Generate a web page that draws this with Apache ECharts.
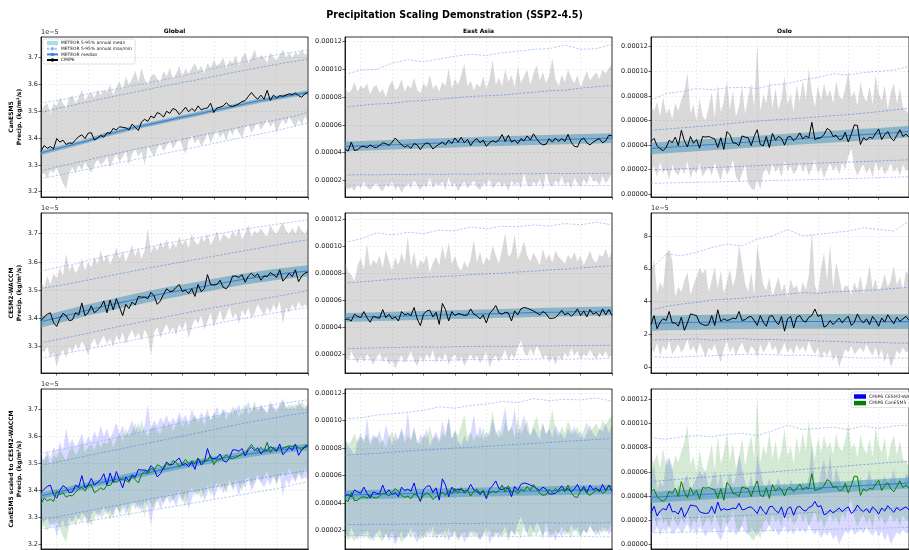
<!DOCTYPE html>
<html><head><meta charset="utf-8">
<script src="https://cdn.jsdelivr.net/npm/echarts@6/dist/echarts.min.js"></script>
<style>html,body{margin:0;padding:0;background:#fff}#c{width:909px;height:550px}</style>
</head><body><div id="c"></div>
<script>
// ---------- categories ----------
const YEARS = Array.from({length: 86}, (_, i) => String(2015 + i));
const MX = [2015,2020,2025,2030,2035,2040,2045,2050,2055,2060,2065,2070,2075,2080,2085,2090,2095,2100];
const COL_TITLES = ['Global', 'East Asia', 'Oslo'];
const ROW_NAMES = ['CanESM5\nPrecip. (kg/m²/s)', 'CESM2-WACCM\nPrecip. (kg/m²/s)', 'CanESM5 scaled to CESM2-WACCM\nPrecip. (kg/m²/s)'];
const TICKS_GLOBAL_1 = [3.2,3.3,3.4,3.5,3.6,3.7];
const TICKS_GLOBAL_2 = [3.3,3.4,3.5,3.6,3.7];
const TICKS_EA = [2,4,6,8,10,12];
const TICKS_OSLO = [0,2,4,6,8,10,12];
const TICKS_OSLO_2 = [0,2,4,6,8];

// ---------- CMIP6 annual series (units 1e-5 kg/m²/s) ----------
const G_CAN_CMIP = [3.350,3.372,3.362,3.368,3.360,3.398,3.385,3.392,3.376,3.382,
3.380,3.394,3.405,3.412,3.398,3.418,3.420,3.392,3.400,3.410,
3.403,3.420,3.418,3.436,3.430,3.442,3.440,3.438,3.430,3.452,
3.440,3.428,3.460,3.470,3.462,3.482,3.475,3.495,3.490,3.478,
3.500,3.492,3.510,3.505,3.488,3.500,3.515,3.498,3.510,3.500,
3.520,3.505,3.510,3.512,3.530,3.495,3.512,3.515,3.520,3.532,
3.520,3.518,3.522,3.528,3.536,3.540,3.555,3.570,3.555,3.545,
3.560,3.545,3.578,3.540,3.560,3.550,3.558,3.556,3.560,3.565,
3.562,3.568,3.558,3.552,3.565,3.570];
const G_CAN_HI = [3.50,3.52,3.53,3.49,3.53,3.52,3.55,3.53,3.51,3.55,
3.56,3.53,3.55,3.58,3.54,3.56,3.57,3.55,3.58,3.56,
3.58,3.57,3.60,3.56,3.59,3.61,3.58,3.63,3.60,3.62,
3.65,3.61,3.66,3.62,3.60,3.63,3.64,3.62,3.61,3.65,
3.63,3.66,3.62,3.64,3.67,3.63,3.66,3.64,3.66,3.68,
3.65,3.67,3.64,3.68,3.66,3.69,3.67,3.68,3.70,3.66,
3.69,3.68,3.71,3.67,3.70,3.72,3.68,3.70,3.73,3.69,
3.71,3.70,3.68,3.72,3.70,3.69,3.71,3.73,3.70,3.72,
3.70,3.72,3.71,3.73,3.71,3.72];
const G_CAN_LO = [3.26,3.27,3.25,3.28,3.27,3.29,3.26,3.23,3.21,3.27,
3.29,3.27,3.30,3.28,3.31,3.29,3.27,3.30,3.32,3.30,
3.31,3.33,3.29,3.32,3.34,3.31,3.33,3.35,3.30,3.34,
3.36,3.33,3.35,3.30,3.37,3.35,3.33,3.36,3.38,3.35,
3.37,3.39,3.36,3.38,3.40,3.37,3.34,3.39,3.41,3.38,
3.40,3.37,3.39,3.42,3.38,3.41,3.43,3.40,3.42,3.39,
3.43,3.41,3.44,3.42,3.40,3.44,3.45,3.42,3.44,3.46,
3.43,3.45,3.47,3.44,3.46,3.42,3.45,3.47,3.45,3.48,
3.46,3.44,3.47,3.45,3.48,3.46];

const G_CES_CMIP = [3.392,3.405,3.415,3.420,3.385,3.372,3.400,3.418,3.410,3.392,
3.395,3.420,3.412,3.455,3.410,3.420,3.445,3.420,3.430,3.440,
3.462,3.420,3.465,3.430,3.470,3.440,3.410,3.450,3.435,3.458,
3.448,3.478,3.475,3.476,3.470,3.492,3.480,3.450,3.462,3.485,
3.505,3.495,3.497,3.510,3.520,3.495,3.500,3.488,3.505,3.478,
3.520,3.495,3.505,3.555,3.520,3.518,3.520,3.535,3.510,3.505,
3.520,3.550,3.550,3.545,3.555,3.528,3.550,3.560,3.548,3.558,
3.535,3.550,3.548,3.562,3.555,3.545,3.572,3.532,3.545,3.560,
3.548,3.572,3.530,3.550,3.560,3.565];
const G_CES_HI = [3.53,3.51,3.55,3.52,3.56,3.54,3.58,3.55,3.63,3.57,
3.59,3.56,3.58,3.61,3.57,3.60,3.58,3.62,3.59,3.64,
3.60,3.63,3.59,3.62,3.65,3.61,3.64,3.60,3.63,3.66,
3.62,3.65,3.61,3.64,3.72,3.63,3.66,3.64,3.67,3.65,
3.68,3.64,3.67,3.65,3.69,3.66,3.68,3.65,3.70,3.67,
3.66,3.69,3.67,3.70,3.66,3.68,3.71,3.67,3.70,3.69,
3.68,3.71,3.69,3.72,3.68,3.70,3.73,3.69,3.71,3.70,
3.72,3.70,3.69,3.73,3.71,3.70,3.72,3.74,3.71,3.70,
3.72,3.70,3.73,3.71,3.70,3.72];
const G_CES_LO = [3.29,3.28,3.30,3.26,3.28,3.23,3.27,3.29,3.26,3.30,
3.28,3.31,3.29,3.32,3.30,3.27,3.31,3.33,3.30,3.32,
3.34,3.31,3.33,3.30,3.34,3.32,3.35,3.31,3.34,3.36,
3.33,3.35,3.32,3.36,3.34,3.27,3.35,3.37,3.33,3.36,
3.38,3.35,3.37,3.34,3.38,3.36,3.39,3.33,3.37,3.40,
3.38,3.41,3.36,3.39,3.42,3.37,3.40,3.43,3.39,3.41,
3.44,3.40,3.42,3.38,3.43,3.41,3.44,3.40,3.42,3.45,
3.43,3.41,3.44,3.42,3.45,3.43,3.46,3.38,3.44,3.42,
3.45,3.43,3.46,3.44,3.45,3.44];

const E_CAN_CMIP = [4.25,4.10,4.75,4.15,4.20,4.40,4.45,4.35,4.55,4.40,
4.35,4.50,4.70,4.65,4.50,4.75,5.05,4.80,4.55,4.40,
4.50,4.30,4.65,4.55,4.20,4.55,4.70,4.60,4.25,4.45,
4.60,4.75,4.55,4.90,4.65,5.05,4.75,5.10,4.70,4.95,
4.50,4.85,5.00,4.70,4.90,4.45,4.70,4.85,4.75,4.90,
5.30,4.80,5.25,4.75,4.90,4.65,5.00,4.85,5.20,4.90,
5.35,5.00,4.70,4.55,4.60,5.00,4.75,5.05,4.80,5.00,
4.80,5.30,4.75,4.45,4.40,4.90,5.05,4.70,4.55,4.75,
4.90,5.00,4.70,4.85,5.25,5.20];
const E_CAN_HI = [8.7,8.3,8.5,9.1,8.4,8.8,8.6,9.0,8.2,8.7,
8.9,8.3,8.6,8.0,8.8,9.2,8.5,8.7,9.3,8.4,
8.9,8.6,9.4,8.5,8.3,9.0,8.7,9.6,8.6,8.9,
8.4,9.1,8.8,10.1,8.6,9.3,8.9,9.6,10.4,8.8,
9.2,8.5,9.0,8.7,9.5,8.6,9.3,10.7,8.9,9.4,
8.8,10.0,9.1,9.6,8.7,10.2,9.0,9.5,10.0,8.9,
9.7,10.3,9.2,9.8,9.0,9.5,10.8,9.3,8.8,9.6,
9.1,10.0,9.4,9.0,9.6,8.7,9.3,9.9,9.2,9.5,
9.8,9.3,10.0,9.7,10.1,10.4];
const E_CAN_LO = [1.6,1.3,1.5,1.2,1.7,1.4,1.9,1.5,1.3,1.6,
1.8,1.4,1.2,1.7,1.5,1.9,1.3,1.6,1.1,1.5,
1.8,1.4,2.0,1.6,1.3,1.7,1.5,2.2,1.4,1.8,
1.6,1.9,1.3,2.2,1.5,1.8,1.2,1.6,1.9,1.4,
1.7,2.0,1.5,1.3,1.8,1.6,2.1,1.4,1.7,1.9,
1.5,1.8,1.2,2.0,1.6,1.9,1.4,2.6,1.7,1.5,
1.9,1.6,2.1,1.3,2.6,1.8,1.5,2.0,1.7,2.3,
1.6,1.9,1.4,2.2,1.8,1.5,2.1,1.7,2.4,1.9,
2.0,1.6,2.3,1.8,2.1,2.5];

const E_CES_CMIP = [4.55,4.60,4.45,4.95,4.80,4.70,5.15,4.70,4.35,4.80,
4.70,4.65,5.30,4.70,4.95,4.60,4.75,4.45,5.15,4.90,
5.00,4.85,5.45,4.60,4.10,4.95,5.20,5.25,4.75,5.10,
4.20,5.75,5.30,4.45,5.15,4.85,5.00,4.95,4.85,4.90,
5.35,4.95,4.85,4.60,4.90,4.30,5.00,5.25,5.60,5.05,
4.95,5.10,5.05,4.45,5.20,4.90,5.35,5.45,5.40,5.30,
5.20,5.05,4.90,5.15,5.00,4.65,4.65,4.70,4.95,5.25,
4.90,5.05,4.80,5.00,5.35,4.85,5.20,4.75,5.30,4.95,
5.10,4.80,5.35,4.90,5.30,4.85];
const E_CES_HI = [8.8,8.1,7.9,7.4,8.6,9.1,8.3,10.2,8.5,9.0,
8.7,9.3,8.4,9.7,8.9,8.2,9.2,8.6,9.5,8.8,
10.7,8.5,9.6,8.3,9.0,8.7,9.4,8.1,8.8,9.2,
8.6,10.0,9.0,10.3,8.7,9.3,8.5,8.2,8.9,8.4,
9.1,10.5,8.8,9.6,8.6,9.2,8.9,10.1,9.3,8.7,
9.8,11.0,9.2,9.5,10.9,9.0,9.6,10.4,9.3,8.9,
9.5,9.1,8.6,9.8,9.0,9.4,8.8,9.7,9.2,9.0,
8.7,9.4,9.0,9.6,8.9,9.3,8.6,9.1,9.7,9.0,
8.8,9.4,9.2,9.8,9.1,9.7];
const E_CES_LO = [1.9,1.5,2.2,1.7,1.3,1.8,1.4,2.0,1.6,1.2,
1.7,2.1,1.4,1.8,1.2,1.6,0.9,1.5,1.9,1.3,
1.7,2.2,1.5,1.1,1.8,1.4,2.0,1.6,2.3,1.3,
1.8,1.5,2.1,1.2,1.7,2.0,1.4,1.8,1.1,1.6,
2.0,1.5,1.9,1.3,1.7,2.2,1.0,1.6,1.9,1.4,
1.8,2.3,1.5,2.0,1.7,2.5,3.0,2.1,1.8,2.4,
1.9,2.6,2.2,1.6,2.0,1.4,1.8,1.2,1.9,1.5,
2.1,1.7,2.4,1.9,2.2,1.6,2.0,1.8,2.3,1.9,
1.6,2.1,1.8,2.2,1.7,2.0];

const O_CAN_CMIP = [4.30,4.55,3.95,3.70,3.55,3.80,4.40,4.20,4.65,3.95,
5.20,4.35,3.85,4.70,4.15,4.45,3.75,4.70,4.65,4.70,
4.60,4.50,3.80,4.60,3.65,5.10,4.85,4.20,4.15,3.95,
4.75,4.65,4.60,3.95,4.70,5.25,4.05,3.95,4.70,3.80,
4.95,4.40,4.70,4.55,4.00,4.65,4.70,4.35,4.60,5.00,
4.50,4.75,4.60,5.85,4.45,4.55,4.60,4.85,5.35,5.20,
4.70,4.80,4.45,4.50,5.05,4.25,4.90,5.65,5.60,4.05,
4.60,4.40,4.65,4.55,4.95,5.30,4.45,4.85,5.10,4.60,
4.35,4.80,5.25,4.70,4.90,4.65];
const O_CAN_HI = [7.2,6.8,7.5,6.3,7.9,6.5,7.0,6.1,7.4,6.8,
7.7,8.4,9.9,6.6,7.3,5.9,7.8,6.4,6.0,7.1,
8.3,6.2,8.9,6.7,7.6,9.2,6.9,8.4,6.3,7.2,
8.8,6.5,7.9,9.0,7.1,12.2,6.8,8.1,7.4,9.3,
7.0,8.6,6.9,7.8,9.6,7.3,8.2,6.7,8.9,7.5,
9.3,7.7,10.2,8.3,7.1,8.8,7.6,9.0,7.9,8.5,
7.4,9.2,8.0,7.7,8.6,10.0,7.9,8.4,7.2,9.1,
8.0,7.5,8.8,7.3,9.7,8.2,7.6,8.9,6.9,8.3,
9.0,7.4,8.6,7.1,6.8,6.5];
const O_CAN_LO = [1.9,2.3,1.4,2.6,1.7,2.1,1.2,2.4,1.8,1.5,
2.2,1.6,2.7,1.3,2.0,1.7,2.5,1.4,1.9,2.2,
1.5,2.6,1.8,1.1,2.3,1.6,2.0,2.8,1.4,1.0,
1.7,2.4,0.9,0.5,0.3,1.2,0.4,1.8,2.1,1.5,
2.5,1.8,2.2,1.4,2.7,1.9,2.3,1.6,2.0,2.6,
1.8,2.4,1.5,2.1,2.8,1.7,2.2,1.3,2.0,2.5,
1.9,2.3,1.6,2.6,2.0,3.1,3.7,2.2,1.5,2.1,
2.4,1.7,2.2,1.4,2.6,1.9,2.3,1.6,2.0,2.5,
1.8,2.2,1.5,2.4,1.9,2.1];

const O_CES_CMIP = [2.60,3.15,2.35,2.75,2.95,2.85,3.40,2.70,2.70,2.50,
3.05,2.25,2.70,3.25,3.20,3.15,2.70,2.60,2.55,2.60,
3.15,2.55,3.50,2.80,2.95,2.85,2.90,3.00,2.95,3.40,
2.85,2.90,3.05,3.10,2.85,2.55,3.15,2.75,2.50,3.10,
3.15,2.80,2.60,3.10,2.20,2.95,3.10,2.40,3.05,3.15,
2.85,2.75,3.05,3.15,3.55,3.10,3.20,2.45,2.55,2.85,
2.60,2.80,3.00,2.70,2.95,3.10,2.55,2.75,3.25,2.90,
2.70,2.95,2.60,3.10,2.85,2.50,3.00,2.75,3.20,2.90,
2.65,3.05,2.80,2.95,3.10,2.85];
const O_CES_HI = [5.8,6.6,4.5,5.2,4.8,6.9,7.2,6.5,4.3,4.9,
4.6,5.3,5.8,4.4,5.0,5.5,6.1,5.7,6.0,4.6,
5.3,6.1,4.8,5.9,4.5,5.2,6.0,4.9,5.6,7.5,
6.3,5.1,4.6,5.8,4.4,7.5,6.2,5.0,4.7,5.5,
4.3,4.9,5.5,4.6,5.1,4.2,5.4,4.8,5.0,4.4,
5.2,4.7,5.6,8.3,5.0,4.5,6.0,7.0,5.3,7.5,
4.8,6.4,5.5,4.6,5.0,4.9,4.4,5.2,4.7,5.6,
4.5,5.1,6.2,4.8,5.4,4.6,5.0,5.7,4.9,5.3,
6.2,5.0,5.5,4.7,5.9,5.6];
const O_CES_LO = [1.2,0.9,1.5,0.7,1.3,1.0,1.6,0.8,1.1,1.4,
0.9,1.2,1.7,1.0,1.3,0.8,1.5,1.1,0.6,1.2,
1.0,1.4,0.8,0.3,1.1,1.6,0.9,1.3,0.7,1.2,
1.5,1.0,0.8,1.3,1.1,0.6,1.4,0.9,1.2,1.6,
1.0,1.3,0.7,1.1,1.5,0.9,1.2,0.8,1.4,1.0,
1.3,0.9,1.6,1.1,0.8,1.2,0.5,1.0,0.7,1.1,
0.4,0.8,0.0,0.6,1.1,0.9,1.3,0.8,1.0,1.2,
0.9,1.4,1.0,0.7,1.2,0.6,1.1,0.3,0.9,0.0,
0.5,1.0,0.8,1.2,0.9,1.0];

// ---------- METEOR emulator curves at MX years ----------
// Global / CanESM5
const M11_MED = [3.345,3.36,3.375,3.39,3.41,3.425,3.44,3.452,3.465,3.478,3.49,3.503,3.515,3.528,3.54,3.55,3.56,3.57];
const M11_LO = [3.337,3.352,3.367,3.382,3.402,3.417,3.432,3.444,3.457,3.470,3.482,3.495,3.507,3.520,3.532,3.542,3.552,3.562];
const M11_HI = [3.353,3.368,3.383,3.398,3.418,3.433,3.448,3.460,3.473,3.486,3.498,3.511,3.523,3.536,3.548,3.558,3.568,3.578];
const M11_D1 = [3.53,3.54,3.55,3.565,3.575,3.585,3.597,3.607,3.62,3.632,3.645,3.66,3.672,3.685,3.70,3.71,3.72,3.73];
const M11_D2 = [3.495,3.51,3.522,3.535,3.548,3.56,3.572,3.584,3.596,3.607,3.618,3.63,3.642,3.653,3.664,3.675,3.685,3.694];
const M11_D3 = [3.277,3.292,3.305,3.318,3.332,3.345,3.358,3.37,3.382,3.395,3.408,3.42,3.432,3.445,3.457,3.468,3.48,3.496];
const M11_D4 = [3.248,3.26,3.272,3.284,3.296,3.308,3.32,3.332,3.344,3.356,3.368,3.38,3.392,3.404,3.416,3.428,3.442,3.456];
// Global / CESM2-WACCM
const M21_MED = [3.388,3.402,3.416,3.43,3.443,3.455,3.467,3.479,3.49,3.5,3.51,3.52,3.53,3.54,3.548,3.556,3.562,3.568];
const M21_LO = [3.368,3.382,3.396,3.41,3.423,3.435,3.447,3.459,3.47,3.48,3.49,3.5,3.51,3.52,3.528,3.536,3.542,3.548];
const M21_HI = [3.408,3.422,3.436,3.45,3.463,3.475,3.487,3.499,3.51,3.52,3.53,3.54,3.55,3.56,3.568,3.576,3.582,3.588];
const M21_D1 = [3.568,3.58,3.59,3.605,3.618,3.63,3.642,3.654,3.666,3.676,3.686,3.696,3.706,3.716,3.725,3.733,3.741,3.748];
const M21_D2 = [3.506,3.515,3.525,3.536,3.547,3.558,3.569,3.58,3.59,3.6,3.61,3.62,3.63,3.64,3.65,3.66,3.67,3.678];
const M21_D3 = [3.314,3.325,3.336,3.348,3.36,3.372,3.383,3.395,3.406,3.417,3.428,3.438,3.448,3.458,3.468,3.478,3.488,3.498];
const M21_D4 = [3.259,3.27,3.281,3.292,3.303,3.314,3.325,3.336,3.347,3.358,3.369,3.38,3.391,3.401,3.411,3.421,3.43,3.439];
// Global / scaled
const M31_MED = [3.381,3.393,3.406,3.419,3.432,3.444,3.456,3.468,3.48,3.492,3.503,3.514,3.524,3.533,3.541,3.549,3.555,3.561];
const M31_LO = [3.369,3.381,3.394,3.407,3.42,3.432,3.444,3.456,3.468,3.48,3.491,3.502,3.512,3.521,3.529,3.537,3.543,3.549];
const M31_HI = [3.393,3.405,3.418,3.431,3.444,3.456,3.468,3.48,3.492,3.504,3.515,3.526,3.536,3.545,3.553,3.561,3.567,3.573];
const M31_D1 = [3.536,3.548,3.56,3.572,3.585,3.598,3.611,3.624,3.637,3.65,3.662,3.674,3.686,3.698,3.709,3.719,3.727,3.735];
const M31_D2 = [3.493,3.505,3.517,3.529,3.541,3.553,3.565,3.577,3.589,3.601,3.613,3.625,3.637,3.649,3.66,3.67,3.68,3.689];
const M31_D3 = [3.292,3.303,3.314,3.325,3.336,3.347,3.358,3.369,3.38,3.391,3.402,3.413,3.424,3.435,3.446,3.456,3.465,3.474];
const M31_D4 = [3.257,3.267,3.277,3.287,3.297,3.307,3.317,3.327,3.337,3.347,3.357,3.367,3.377,3.387,3.397,3.407,3.42,3.433];
// East Asia / CanESM5
const M12_MED = [4.44,4.48,4.52,4.56,4.6,4.64,4.68,4.72,4.76,4.8,4.83,4.86,4.89,4.92,4.95,4.98,5.01,5.04];
const M12_LO = [4.09,4.13,4.17,4.21,4.25,4.29,4.33,4.37,4.41,4.45,4.48,4.51,4.54,4.57,4.6,4.63,4.66,4.69];
const M12_HI = [4.79,4.83,4.87,4.91,4.95,4.99,5.03,5.07,5.11,5.15,5.18,5.21,5.24,5.27,5.3,5.33,5.36,5.39];
const M12_D1 = [9.64,9.95,10.0,10.45,10.7,10.55,10.75,10.95,11.1,11.0,11.2,11.3,11.45,11.5,11.75,11.45,11.5,11.8];
const M12_D2 = [7.27,7.4,7.5,7.55,7.7,7.75,7.85,7.95,8.05,8.1,8.15,8.25,8.35,8.45,8.5,8.65,8.75,8.84];
const M12_D3 = [2.37,2.4,2.38,2.42,2.40,2.44,2.42,2.45,2.43,2.47,2.45,2.48,2.46,2.5,2.48,2.5,2.49,2.52];
const M12_D4 = [1.63,1.65,1.62,1.66,1.64,1.62,1.65,1.63,1.66,1.64,1.62,1.65,1.63,1.66,1.62,1.64,1.6,1.62];
// East Asia / CESM2-WACCM
const M22_MED = [4.71,4.74,4.77,4.8,4.83,4.86,4.89,4.92,4.95,4.98,5.01,5.04,5.07,5.1,5.12,5.15,5.17,5.2];
const M22_LO = [4.38,4.41,4.44,4.47,4.5,4.53,4.56,4.59,4.62,4.65,4.68,4.71,4.74,4.77,4.79,4.82,4.84,4.87];
const M22_HI = [5.04,5.07,5.1,5.13,5.16,5.19,5.22,5.25,5.28,5.31,5.34,5.37,5.4,5.43,5.45,5.48,5.5,5.53];
const M22_D1 = [10.3,10.55,11.0,10.85,11.05,10.95,11.2,11.15,11.45,11.3,11.5,11.45,11.6,11.5,11.7,11.6,11.8,11.6];
const M22_D2 = [7.28,7.35,7.45,7.55,7.62,7.7,7.75,7.8,7.9,7.95,8.0,8.1,8.15,8.25,8.3,8.4,8.48,8.57];
const M22_D3 = [2.39,2.42,2.45,2.47,2.5,2.52,2.5,2.54,2.55,2.57,2.56,2.58,2.6,2.59,2.61,2.62,2.63,2.64];
const M22_D4 = [1.61,1.58,1.55,1.5,1.48,1.52,1.5,1.55,1.58,1.56,1.6,1.58,1.62,1.65,1.6,1.64,1.62,1.69];
// East Asia / scaled
const M32_MED = [4.58,4.6,4.62,4.65,4.68,4.7,4.72,4.75,4.78,4.8,4.82,4.85,4.87,4.89,4.91,4.93,4.95,4.96];
const M32_LO = [4.25,4.27,4.29,4.32,4.35,4.37,4.39,4.42,4.45,4.47,4.49,4.52,4.54,4.56,4.58,4.6,4.62,4.63];
const M32_HI = [4.91,4.93,4.95,4.98,5.01,5.03,5.05,5.08,5.11,5.13,5.15,5.18,5.2,5.22,5.24,5.26,5.28,5.29];
const M32_D1 = [10.15,10.2,10.4,10.5,10.6,10.75,11.0,10.9,11.1,11.2,11.4,11.3,11.6,11.45,11.55,11.5,11.65,11.42];
const M32_D2 = [7.49,7.55,7.6,7.7,7.78,7.85,7.92,8.0,8.05,8.12,8.2,8.27,8.33,8.4,8.48,8.55,8.62,8.68];
const M32_D3 = [2.43,2.42,2.45,2.44,2.47,2.46,2.48,2.5,2.49,2.52,2.5,2.53,2.52,2.54,2.53,2.55,2.54,2.56];
const M32_D4 = [1.67,1.62,1.58,1.55,1.6,1.58,1.55,1.6,1.57,1.6,1.58,1.55,1.6,1.57,1.55,1.58,1.52,1.54];
// Oslo / CanESM5
const M13_MED = [3.73,3.81,3.89,3.97,4.05,4.13,4.21,4.29,4.37,4.45,4.53,4.61,4.69,4.77,4.85,4.93,5.01,5.1];
const M13_LO = [3.26,3.34,3.42,3.5,3.58,3.66,3.74,3.82,3.9,3.98,4.06,4.14,4.22,4.3,4.38,4.46,4.54,4.63];
const M13_HI = [4.2,4.28,4.36,4.44,4.52,4.6,4.68,4.76,4.84,4.92,5.0,5.08,5.16,5.24,5.32,5.4,5.48,5.57];
const M13_D1 = [7.66,8.2,8.35,8.6,8.5,8.65,8.7,8.6,8.9,9.0,9.3,9.5,9.8,9.7,9.9,10.0,10.1,10.4];
const M13_D2 = [5.22,5.3,5.4,5.5,5.6,5.72,5.85,5.95,6.04,6.12,6.2,6.3,6.4,6.48,6.6,6.72,6.85,7.0];
const M13_D3 = [1.97,2.02,2.08,2.12,2.18,2.22,2.28,2.33,2.38,2.43,2.48,2.53,2.58,2.62,2.67,2.71,2.76,2.8];
const M13_D4 = [0.89,0.92,0.95,0.98,1.0,1.03,1.06,1.09,1.12,1.15,1.18,1.21,1.24,1.28,1.31,1.35,1.39,1.43];
// Oslo / CESM2-WACCM
const M23_MED = [2.68,2.7,2.72,2.74,2.75,2.76,2.77,2.78,2.78,2.79,2.79,2.79,2.79,2.79,2.78,2.78,2.78,2.78];
const M23_LO = [2.23,2.25,2.27,2.29,2.3,2.31,2.32,2.33,2.33,2.34,2.34,2.34,2.34,2.34,2.33,2.33,2.33,2.33];
const M23_HI = [3.13,3.15,3.17,3.19,3.2,3.21,3.22,3.23,3.23,3.24,3.24,3.24,3.24,3.24,3.23,3.23,3.23,3.23];
const M23_D1 = [5.93,6.9,6.8,7.0,7.3,7.5,7.4,7.8,8.0,8.4,8.0,8.1,8.2,8.3,8.5,8.4,8.3,8.9];
const M23_D2 = [3.49,3.7,3.85,3.95,4.1,4.15,4.2,4.3,4.38,4.45,4.55,4.5,4.6,4.62,4.68,4.72,4.8,4.87];
const M23_D3 = [1.66,1.68,1.7,1.72,1.65,1.7,1.75,1.68,1.7,1.65,1.66,1.6,1.58,1.55,1.5,1.52,1.48,1.46];
const M23_D4 = [0.65,0.6,0.62,0.68,0.7,0.75,0.78,0.8,0.76,0.72,0.74,0.7,0.65,0.6,0.55,0.58,0.56,0.55];
// Oslo / scaled
const M33_MED = [3.89,3.96,4.03,4.1,4.17,4.24,4.31,4.38,4.45,4.52,4.59,4.66,4.73,4.8,4.87,4.94,5.0,5.08];
const M33_LO = [3.44,3.51,3.58,3.65,3.72,3.79,3.86,3.93,4.0,4.07,4.14,4.21,4.28,4.35,4.42,4.49,4.55,4.63];
const M33_HI = [4.34,4.41,4.48,4.55,4.62,4.69,4.76,4.83,4.9,4.97,5.04,5.11,5.18,5.25,5.32,5.39,5.45,5.53];
const M33_D1 = [8.83,8.7,8.9,9.0,8.9,9.1,9.2,9.0,9.4,9.86,9.5,9.6,9.7,9.5,9.8,9.6,9.8,9.86];
const M33_D2 = [5.19,5.3,5.4,5.5,5.6,5.7,5.8,5.9,6.0,6.1,6.2,6.3,6.4,6.5,6.6,6.7,6.8,6.86];
const M33_D3 = [2.08,2.13,2.18,2.23,2.28,2.33,2.38,2.43,2.5,2.55,2.6,2.66,2.72,2.78,2.84,2.9,2.98,3.06];
const M33_D4 = [0.97,0.99,1.01,1.03,1.05,1.08,1.1,1.12,1.15,1.17,1.2,1.22,1.25,1.28,1.31,1.34,1.37,1.39];

// ---------- layout / style ----------
const COL_LEFT = [41, 345, 651];
const ROW_TOP = [37, 213, 389];
const PW = 267, PH = 160;
const FONT = 'DejaVu Sans';
const GRAY = 'rgba(128,128,128,0.3)';
const BLUE_FILL = 'rgba(0,0,255,0.15)';
const GREEN_FILL = 'rgba(0,128,0,0.17)';
const BAND = 'rgba(60,145,185,0.5)';
const MED_C = '#3d7fd6';
const DASH_OUT = 'rgba(100,155,240,0.65)';
const DASH_IN = 'rgba(85,135,225,0.8)';

const fmtSci = v => (v * 1e-5).toFixed(5);
const fmt1 = v => v.toFixed(1);
const fmt0 = v => v.toFixed(0);

const PANELS = [
 {r:0,c:0,min:3.18,max:3.777,ticks:TICKS_GLOBAL_1,fmt:fmt1,fills:[[G_CAN_HI,G_CAN_LO,GRAY]],lines:[[G_CAN_CMIP,'#000','CMIP6']],m:[M11_MED,M11_LO,M11_HI,M11_D1,M11_D2,M11_D3,M11_D4],off:true},
 {r:0,c:1,min:0.79,max:12.34,ticks:TICKS_EA,fmt:fmtSci,fills:[[E_CAN_HI,E_CAN_LO,GRAY]],lines:[[E_CAN_CMIP,'#000','CMIP6']],m:[M12_MED,M12_LO,M12_HI,M12_D1,M12_D2,M12_D3,M12_D4]},
 {r:0,c:2,min:-0.22,max:12.79,ticks:TICKS_OSLO,fmt:fmtSci,fills:[[O_CAN_HI,O_CAN_LO,GRAY]],lines:[[O_CAN_CMIP,'#000','CMIP6']],m:[M13_MED,M13_LO,M13_HI,M13_D1,M13_D2,M13_D3,M13_D4]},
 {r:1,c:0,min:3.207,max:3.773,ticks:TICKS_GLOBAL_2,fmt:fmt1,fills:[[G_CES_HI,G_CES_LO,GRAY]],lines:[[G_CES_CMIP,'#000','CMIP6']],m:[M21_MED,M21_LO,M21_HI,M21_D1,M21_D2,M21_D3,M21_D4],off:true},
 {r:1,c:1,min:0.58,max:12.48,ticks:TICKS_EA,fmt:fmtSci,fills:[[E_CES_HI,E_CES_LO,GRAY]],lines:[[E_CES_CMIP,'#000','CMIP6']],m:[M22_MED,M22_LO,M22_HI,M22_D1,M22_D2,M22_D3,M22_D4]},
 {r:1,c:2,min:-0.35,max:9.4,ticks:TICKS_OSLO_2,fmt:fmt0,fills:[[O_CES_HI,O_CES_LO,GRAY]],lines:[[O_CES_CMIP,'#000','CMIP6']],m:[M23_MED,M23_LO,M23_HI,M23_D1,M23_D2,M23_D3,M23_D4],off:true},
 {r:2,c:0,min:3.184,max:3.775,ticks:TICKS_GLOBAL_1,fmt:fmt1,fills:[[G_CES_HI,G_CES_LO,BLUE_FILL],[G_CAN_HI,G_CAN_LO,GREEN_FILL]],lines:[[G_CES_CMIP,'#0000ff','CMIP6 CESM2-WACCM'],[G_CAN_CMIP,'#008000','CMIP6 CanESM5']],m:[M31_MED,M31_LO,M31_HI,M31_D1,M31_D2,M31_D3,M31_D4],off:true},
 {r:2,c:1,min:0.64,max:12.3,ticks:TICKS_EA,fmt:fmtSci,fills:[[E_CES_HI,E_CES_LO,BLUE_FILL],[E_CAN_HI,E_CAN_LO,GREEN_FILL]],lines:[[E_CES_CMIP,'#0000ff','CMIP6 CESM2-WACCM'],[E_CAN_CMIP,'#008000','CMIP6 CanESM5']],m:[M32_MED,M32_LO,M32_HI,M32_D1,M32_D2,M32_D3,M32_D4]},
 {r:2,c:2,min:-0.39,max:12.86,ticks:TICKS_OSLO,fmt:fmtSci,fills:[[O_CES_HI,O_CES_LO,BLUE_FILL],[O_CAN_HI,O_CAN_LO,GREEN_FILL]],lines:[[O_CES_CMIP,'#0000ff','CMIP6 CESM2-WACCM'],[O_CAN_CMIP,'#008000','CMIP6 CanESM5']],m:[M33_MED,M33_LO,M33_HI,M33_D1,M33_D2,M33_D3,M33_D4]}
];

const MXI = MX.map(y => y - 2015);
const IDX = YEARS.map((_, i) => i);
const isDecade = (i) => (2015 + i) % 10 === 0;

function polySeries(k, xs, hi, lo, color, name) {
  return {
    type: 'custom', name: name, xAxisIndex: k, yAxisIndex: k, silent: true,
    data: [[0, lo[0]]], itemStyle: {color: color},
    renderItem: function (params, api) {
      const pts = [];
      for (let i = 0; i < xs.length; i++) pts.push(api.coord([xs[i], hi[i]]));
      for (let i = xs.length - 1; i >= 0; i--) pts.push(api.coord([xs[i], lo[i]]));
      const cs = params.coordSys;
      return {type: 'polygon', shape: {points: pts}, style: {fill: color},
        clipPath: {type: 'rect', shape: {x: cs.x, y: cs.y, width: cs.width, height: cs.height}}};
    }
  };
}
function lineSeries(k, data, color, width, dash, name) {
  return {type: 'line', name: name, xAxisIndex: k, yAxisIndex: k, data: data, symbol: 'none',
    silent: true, clip: true,
    lineStyle: {color: color, width: width, type: dash ? [2.2, 1.6] : 'solid'},
    itemStyle: {color: color}};
}

const grids = [], xAxes = [], yAxes = [], series = [];
PANELS.forEach((p, k) => {
  grids.push({left: COL_LEFT[p.c], top: ROW_TOP[p.r], width: PW, height: PH, show: true,
    borderColor: '#000', borderWidth: 0.8, backgroundColor: 'transparent', containLabel: false});
  xAxes.push({type: 'category', gridIndex: k, data: YEARS, boundaryGap: false,
    axisLine: {show: true, onZero: false, lineStyle: {color: '#000', width: 0.8}},
    axisTick: {show: true, interval: isDecade, length: 2.5, lineStyle: {color: '#000', width: 0.6}},
    axisLabel: {show: false},
    splitLine: {show: true, interval: isDecade, lineStyle: {color: 'rgba(0,0,0,0.12)', type: [2, 2], width: 0.6}}});
  const ya = {type: 'value', gridIndex: k, min: p.min, max: p.max, scale: true,
    axisLine: {show: true, onZero: false, lineStyle: {color: '#000', width: 0.8}},
    axisTick: {show: true, length: 2.5, customValues: p.ticks, lineStyle: {color: '#000', width: 0.6}},
    axisLabel: {show: true, customValues: p.ticks, formatter: p.fmt, fontSize: 6.5, color: '#222', margin: 3, fontFamily: FONT},
    splitLine: {show: false}};
  if (p.c === 0) {
    ya.name = ROW_NAMES[p.r];
    ya.nameLocation = 'middle';
    ya.nameRotate = 90;
    ya.nameGap = 18;
    ya.nameTextStyle = {fontSize: 6, fontWeight: 'bold', fontFamily: FONT, color: '#000', lineHeight: 8};
  }
  yAxes.push(ya);
  // horizontal grid lines at tick values
  const gridLines = {type: 'line', xAxisIndex: k, yAxisIndex: k, data: [], silent: true,
    markLine: {silent: true, symbol: 'none', label: {show: false}, animation: false,
      lineStyle: {color: 'rgba(0,0,0,0.12)', type: [2, 2], width: 0.6},
      data: p.ticks.map(t => ({yAxis: t}))}};
  series.push(gridLines);
  p.fills.forEach(f => series.push(polySeries(k, IDX, f[0], f[1], f[2])));
  series.push(polySeries(k, MXI, p.m[2], p.m[1], BAND, 'METEOR 5-95% annual mean'));
  const mx = (arr) => MXI.map((x, i) => [x, arr[i]]);
  series.push(lineSeries(k, mx(p.m[3]), DASH_OUT, 0.8, true, 'METEOR 5-95% annual max/min'));
  series.push(lineSeries(k, mx(p.m[4]), DASH_IN, 0.8, true, 'METEOR 5-95% annual max/min'));
  series.push(lineSeries(k, mx(p.m[5]), DASH_IN, 0.8, true, 'METEOR 5-95% annual max/min'));
  series.push(lineSeries(k, mx(p.m[6]), DASH_OUT, 0.8, true, 'METEOR 5-95% annual max/min'));
  series.push(lineSeries(k, mx(p.m[0]), MED_C, 1.1, false, 'METEOR median'));
  p.lines.forEach(l => series.push(lineSeries(k, l[0], l[1], 1, false, l[2])));
});

const graphics = [];
COL_TITLES.forEach((t, c) => graphics.push({type: 'text', x: COL_LEFT[c] + PW / 2, y: 31,
  style: {text: t, fill: '#000', font: 'bold 6px "DejaVu Sans"', textAlign: 'center', textVerticalAlign: 'middle'}}));
PANELS.forEach(p => { if (p.off) graphics.push({type: 'text', x: COL_LEFT[p.c], y: ROW_TOP[p.r] - 5,
  style: {text: '1e\u22125', fill: '#222', font: '6.5px "DejaVu Sans"', textAlign: 'left', textVerticalAlign: 'middle'}}); });

const option = {
  animation: false,
  backgroundColor: '#fff',
  title: {text: 'Precipitation Scaling Demonstration (SSP2-4.5)', left: 'center', top: 5,
    textStyle: {fontSize: 9.6, fontWeight: 'bold', fontFamily: FONT, color: '#000'}},
  grid: grids, xAxis: xAxes, yAxis: yAxes, series: series, graphic: graphics,
  legend: [
    {orient: 'vertical', left: 43, top: 39, itemWidth: 11, itemHeight: 4.2, itemGap: 1.6, padding: [2, 3, 2, 3],
      borderColor: '#ccc', borderWidth: 0.6, borderRadius: 2, backgroundColor: 'rgba(255,255,255,0.85)',
      selectedMode: false, textStyle: {fontSize: 4.4, fontFamily: FONT, color: '#222', padding: [0, 0, 0, -2]},
      data: [{name: 'METEOR 5-95% annual mean', icon: 'rect', itemStyle: {color: '#addcea'}},
             {name: 'METEOR 5-95% annual max/min'}, {name: 'METEOR median'},
             {name: 'CMIP6', itemStyle: {color: '#000'}}]},
    {orient: 'vertical', left: 851, top: 392, itemWidth: 12, itemHeight: 4.5, itemGap: 1.6, padding: [2, 4, 2, 3],
      borderColor: '#ccc', borderWidth: 0.6, borderRadius: 2, backgroundColor: 'rgba(255,255,255,0.85)',
      selectedMode: false, textStyle: {fontSize: 4.6, fontFamily: FONT, color: '#222', padding: [0, 0, 0, -2]},
      data: [{name: 'CMIP6 CESM2-WACCM', icon: 'rect', itemStyle: {color: '#0000ff'}},
             {name: 'CMIP6 CanESM5', icon: 'rect', itemStyle: {color: '#008000'}}]}
  ]
};
const chart = echarts.init(document.getElementById('c'), null, {renderer: 'canvas'});
chart.setOption(option);
</script></body></html>
